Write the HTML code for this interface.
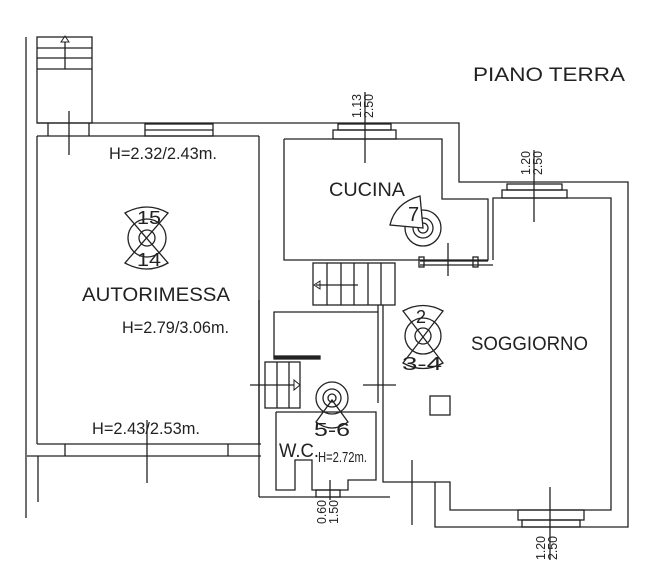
<!DOCTYPE html>
<html><head><meta charset="utf-8"><style>
html,body{margin:0;padding:0;background:#fff;}
svg{display:block}
text{font-family:"Liberation Sans",sans-serif;fill:#222;}
</style></head><body>
<svg width="651" height="571" viewBox="0 0 651 571" xmlns="http://www.w3.org/2000/svg">
<g fill="none" stroke="#222" stroke-width="1.3">
<line x1="26" y1="37" x2="26" y2="518"/>
<rect x="37" y="37" width="55" height="86"/>
<line x1="37" y1="48" x2="92" y2="48"/><line x1="37" y1="58" x2="92" y2="58"/><line x1="37" y1="69" x2="92" y2="69"/>
<line x1="65" y1="69" x2="65" y2="42"/>
<polygon points="61,42 69,42 65,36" stroke-width="1"/>
<line x1="37" y1="123" x2="284" y2="123"/>
<line x1="37" y1="136" x2="259" y2="136"/>
<line x1="48" y1="123" x2="48" y2="136"/><line x1="89" y1="123" x2="89" y2="136"/>
<line x1="69" y1="111" x2="69" y2="155"/>
<rect x="145" y="124" width="68" height="12"/>
<line x1="145" y1="130" x2="213" y2="130"/>
<line x1="37" y1="136" x2="37" y2="444"/><line x1="37" y1="444" x2="261" y2="444"/>
<line x1="259" y1="136" x2="259" y2="444"/>
<line x1="27" y1="456" x2="261" y2="456"/>
<line x1="65" y1="444" x2="65" y2="456"/><line x1="228" y1="444" x2="228" y2="456"/>
<line x1="38" y1="456" x2="38" y2="502"/>
<line x1="147" y1="420" x2="147" y2="483"/>
<polyline points="284,123 459,123 459,182 628,182 628,527 435,527 435,482"/>
<polyline points="284,139 442,139 442,199 488,199 488,260 284,260 284,139"/>
<rect x="333" y="130" width="63" height="9"/><rect x="338" y="124" width="53" height="6"/>
<line x1="365" y1="92" x2="365" y2="163"/>
<polyline points="493,260 493,198 611,198 611,510 450,510 450,482 383,482 383,403"/>
<rect x="502" y="190" width="65" height="8"/><rect x="507" y="184" width="55" height="6"/>
<line x1="534" y1="150" x2="534" y2="222"/>
<rect x="518" y="510" width="66" height="10"/><rect x="522" y="520" width="58" height="7"/>
<line x1="550" y1="487" x2="550" y2="560"/>
<line x1="412" y1="460" x2="412" y2="525"/>
<line x1="420" y1="261" x2="488" y2="261"/><line x1="420" y1="265" x2="493" y2="265"/>
<rect x="419" y="257" width="5" height="10"/><rect x="473" y="257" width="5" height="10"/>
<line x1="448" y1="243" x2="448" y2="276"/>
<rect x="313" y="263" width="82" height="42"/>
<line x1="327" y1="263" x2="327" y2="305"/><line x1="341" y1="263" x2="341" y2="305"/><line x1="354" y1="263" x2="354" y2="305"/><line x1="368" y1="263" x2="368" y2="305"/><line x1="381" y1="263" x2="381" y2="305"/>
<line x1="316" y1="285" x2="358" y2="285"/>
<polygon points="314,285 320,281 320,289" stroke-width="1"/>
<line x1="259" y1="300" x2="259" y2="497"/>
<line x1="259" y1="497" x2="390" y2="497"/>
<line x1="378" y1="305" x2="378" y2="403"/>
<line x1="383" y1="305" x2="383" y2="403"/>
<polyline points="274,357 274,312 378,312"/>
<rect x="274" y="356" width="46" height="3" fill="#222"/>
<rect x="265" y="362" width="35" height="46"/>
<line x1="277" y1="362" x2="277" y2="408"/><line x1="289" y1="362" x2="289" y2="408"/>
<line x1="250" y1="385" x2="294" y2="385"/>
<polygon points="294,380 300,385 294,390" stroke-width="1"/>
<line x1="363" y1="385" x2="396" y2="385"/>
<polyline points="276,412 376,412 376,480 348,480 348,490 312,490 312,460 295,460 295,490 276,490 276,412"/>
<rect x="316" y="490" width="24" height="7"/>
<line x1="330" y1="480" x2="330" y2="500"/>
<!-- symbols -->
<circle cx="147" cy="238" r="19"/><circle cx="147" cy="238" r="8"/>
<path d="M125,213 Q147,201 168,213 L125,263 Q147,275 168,263 Z"/>
<circle cx="423" cy="228" r="18"/><circle cx="423" cy="228" r="10"/><circle cx="423" cy="228" r="5"/>
<path d="M423,228 L390,225 Q395,203 420,196 Z" fill="#fff"/>
<circle cx="423" cy="336" r="18"/><circle cx="423" cy="336" r="8"/>
<path d="M403,311 Q423,300 443,311 L403,363 Q423,374 443,363 Z"/>
<circle cx="332" cy="398" r="16"/><circle cx="332" cy="398" r="9"/><circle cx="332" cy="398" r="4"/>
<path d="M332,400 L316,422 Q332,434 348,422 Z"/>
<rect x="430" y="396" width="20" height="19"/>
</g>
<g font-size="19">
<text x="473" y="81" textLength="152" lengthAdjust="spacingAndGlyphs">PIANO TERRA</text>
<text x="109" y="159" font-size="17" textLength="108" lengthAdjust="spacingAndGlyphs">H=2.32/2.43m.</text>
<text x="82" y="301" textLength="148" lengthAdjust="spacingAndGlyphs">AUTORIMESSA</text>
<text x="122" y="333" font-size="17" textLength="107" lengthAdjust="spacingAndGlyphs">H=2.79/3.06m.</text>
<text x="92" y="434" font-size="17" textLength="108" lengthAdjust="spacingAndGlyphs">H=2.43/2.53m.</text>
<text x="329" y="196" textLength="76" lengthAdjust="spacingAndGlyphs">CUCINA</text>
<text x="471" y="350" textLength="117" lengthAdjust="spacingAndGlyphs">SOGGIORNO</text>
<text x="279" y="457" textLength="40" lengthAdjust="spacingAndGlyphs">W.C.</text>
<text x="318" y="462" font-size="15" textLength="49" lengthAdjust="spacingAndGlyphs">H=2.72m.</text>
<text x="137" y="224" font-size="18" textLength="24" lengthAdjust="spacingAndGlyphs">15</text>
<text x="137" y="266" font-size="18" textLength="24" lengthAdjust="spacingAndGlyphs">14</text>
<text x="408" y="221" font-size="20">7</text>
<text x="416" y="323" font-size="18">2</text>
<text x="402" y="370" font-size="18" textLength="40" lengthAdjust="spacingAndGlyphs">3-4</text>
<text x="314" y="436" font-size="18" textLength="36" lengthAdjust="spacingAndGlyphs">5-6</text>
</g>
<g font-size="13">
<text transform="translate(361,118) rotate(-90)" textLength="24" lengthAdjust="spacingAndGlyphs">1.13</text>
<text transform="translate(373,118) rotate(-90)" textLength="24" lengthAdjust="spacingAndGlyphs">2.50</text>
<text transform="translate(530,175) rotate(-90)" textLength="24" lengthAdjust="spacingAndGlyphs">1.20</text>
<text transform="translate(542,175) rotate(-90)" textLength="24" lengthAdjust="spacingAndGlyphs">2.50</text>
<text transform="translate(326,524) rotate(-90)" textLength="24" lengthAdjust="spacingAndGlyphs">0.60</text>
<text transform="translate(338,524) rotate(-90)" textLength="24" lengthAdjust="spacingAndGlyphs">1.50</text>
<text transform="translate(545,560) rotate(-90)" textLength="24" lengthAdjust="spacingAndGlyphs">1.20</text>
<text transform="translate(557,560) rotate(-90)" textLength="24" lengthAdjust="spacingAndGlyphs">2.50</text>
</g>
</svg>
</body></html>
